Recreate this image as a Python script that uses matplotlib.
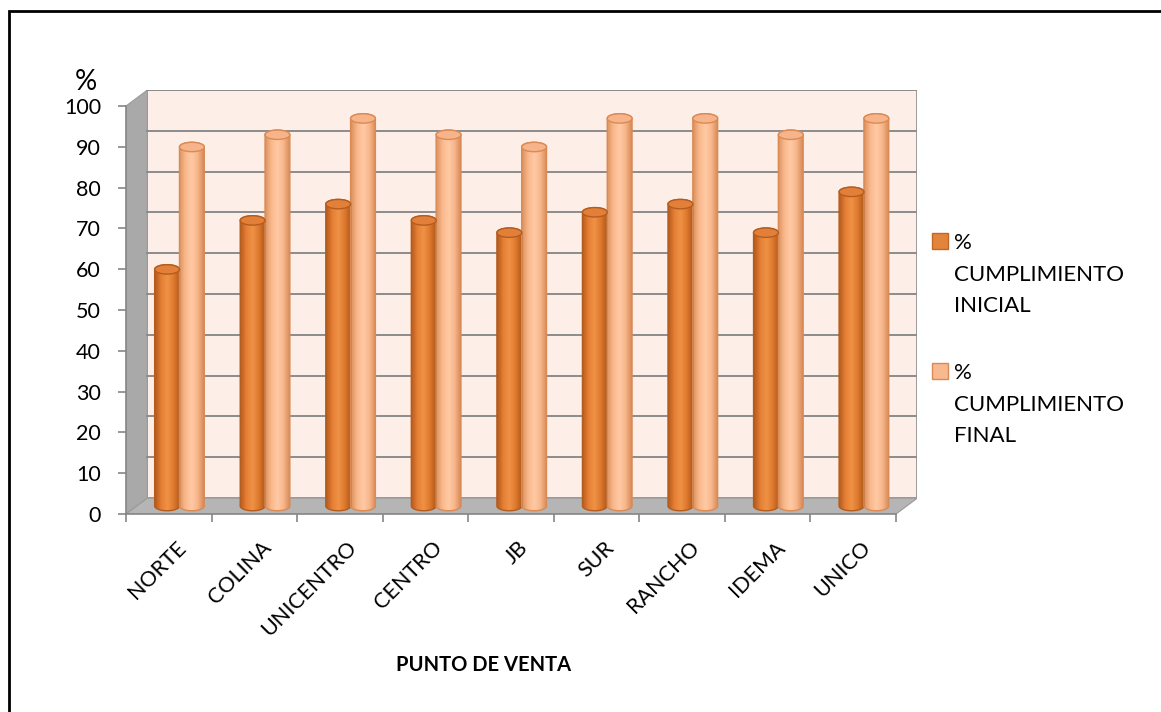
import numpy as np
import matplotlib.pyplot as plt
from matplotlib.patches import Polygon, Rectangle, Ellipse
from matplotlib.colors import LinearSegmentedColormap
from matplotlib.transforms import ScaledTranslation

plt.rcParams['font.family'] = ['Lato', 'DejaVu Sans']

puntos = ['NORTE', 'COLINA', 'UNICENTRO', 'CENTRO', 'JB', 'SUR', 'RANCHO', 'IDEMA', 'UNICO']
inicial = [58, 70, 74, 70, 67, 72, 74, 67, 77]
final = [88, 91, 95, 91, 88, 95, 95, 91, 95]
series = ['%\nCUMPLIMIENTO\nINICIAL', '%\nCUMPLIMIENTO\nFINAL']
yticks = list(range(0, 101, 10))

W, H = 1161, 712
fig = plt.figure(figsize=(W / 100, H / 100), dpi=100)

# fake 3D: depth shift of the back wall in data units
dx, dy = 0.25, 3.9
n = len(puntos)
ax = fig.add_axes([126 / W, (H - 514) / H, 770 / W * (n + dx) / n, 408 / H * (100 + dy) / 100])

grid_c = '#8c8c8c'
# side wall, floor and back wall
ax.add_patch(Polygon([(0, 0), (dx, dy), (dx, 100 + dy), (0, 100)], closed=True,
                     fc='#a9a9a9', ec='#9a9a9a', lw=0.8, zorder=1))
ax.add_patch(Polygon([(0, 0), (n, 0), (n + dx, dy), (dx, dy)], closed=True,
                     fc='#b5b5b5', ec='#9a9a9a', lw=0.8, zorder=1))
ax.add_patch(Rectangle((dx, dy), n, 100, fc='#fdefe8', ec=grid_c, lw=1.2, zorder=0.5))
for v in yticks[1:]:
    ax.plot([dx, n + dx], [v + dy, v + dy], color=grid_c, lw=1.4, zorder=1)


def cylinder(xc, h, w, cols, top_fc, edge):
    base = dy / 2
    top = h + dy / 2
    eh = 2.3
    t1 = np.linspace(np.pi, 2 * np.pi, 40)
    t2 = np.linspace(0, np.pi, 40)
    xs = np.concatenate([[xc - w / 2], xc + w / 2 * np.cos(t1), [xc + w / 2], xc + w / 2 * np.cos(t2)])
    ys = np.concatenate([[top], base + eh / 2 * np.sin(t1), [top], top + eh / 2 * np.sin(t2)])
    body = Polygon(np.column_stack([xs, ys]), closed=True, fc='none', ec=edge, lw=1.0, zorder=3)
    cmap = LinearSegmentedColormap.from_list('c', cols)
    grad = np.linspace(0, 1, 64).reshape(1, -1)
    im = ax.imshow(grad, cmap=cmap, extent=[xc - w / 2, xc + w / 2, base - eh, top + eh],
                   aspect='auto', zorder=2, interpolation='bilinear')
    ax.add_patch(body)
    im.set_clip_path(body)
    ax.add_patch(Ellipse((xc, top), w, eh, fc=top_fc, ec=edge, lw=1.0, zorder=4))


bw = 0.29
col_ini = ['#b45a1c', '#e57f35', '#ef9246', '#de7a2e', '#b35a1c']
col_fin = ['#dc925f', '#f9b88c', '#ffcaa5', '#f7b68a', '#d88b58']
for i in range(n):
    xc = i + 0.5 + dx / 2
    cylinder(xc - bw / 2, inicial[i], bw, col_ini, '#e2803a', '#b45c1e')
    cylinder(xc + bw / 2, final[i], bw, col_fin, '#f7b48a', '#d98a55')

ax.set_xlim(0, n + dx)
ax.set_ylim(0, 100 + dy)

for s in ['top', 'right']:
    ax.spines[s].set_visible(False)
ax.spines['left'].set_bounds(0, 100)
ax.spines['bottom'].set_bounds(0, n)
for s in ['left', 'bottom']:
    ax.spines[s].set_color('#868686')
    ax.spines[s].set_linewidth(1.2)
    ax.spines[s].set_zorder(5)

ax.set_yticks(yticks)
ax.set_yticklabels([str(v) for v in yticks], fontsize=15.5)
ax.set_xticks(np.arange(n + 1))
ax.set_xticklabels([])
ax.set_xticks(np.arange(n) + 0.5, minor=True)
ax.set_xticklabels(puntos, minor=True, fontsize=15.5, rotation=45, ha='right', va='center',
                   rotation_mode='anchor')
ax.tick_params(axis='both', which='major', color='#868686', length=6, width=1.2)
ax.tick_params(axis='y', which='major', pad=12)
ax.tick_params(axis='x', which='minor', length=0, pad=22)
for lab in ax.get_xticklabels(minor=True):
    lab.set_transform(lab.get_transform() + ScaledTranslation(0.14, 0, fig.dpi_scale_trans))

fig.text(86 / W, 1 - 82 / H, '%', fontsize=20, ha='center', va='center')
fig.text(484 / W, 1 - 665 / H, 'PUNTO DE VENTA', fontsize=14.5, fontweight='bold',
         ha='center', va='center')

# legend
legend_cols = ['#e2843c', '#f9b990']
legend_edges = ['#c06828', '#d98a55']
legend_top = [241, 371]
for k in range(2):
    fig.add_artist(Rectangle((932 / W, 1 - (legend_top[k] + 8) / H), 16 / W, 16 / H,
                             transform=fig.transFigure, fc=legend_cols[k], ec=legend_edges[k], lw=1))
    fig.text(954 / W, 1 - (legend_top[k] - 8) / H, series[k], fontsize=16, ha='left', va='top',
             linespacing=1.72)

# chart frame
fig.add_artist(Rectangle((9 / W, -0.1), 2, 1 - 11 / H + 0.1, transform=fig.transFigure,
                         fill=False, ec='black', lw=2))

fig.savefig('out.png', dpi=100)
